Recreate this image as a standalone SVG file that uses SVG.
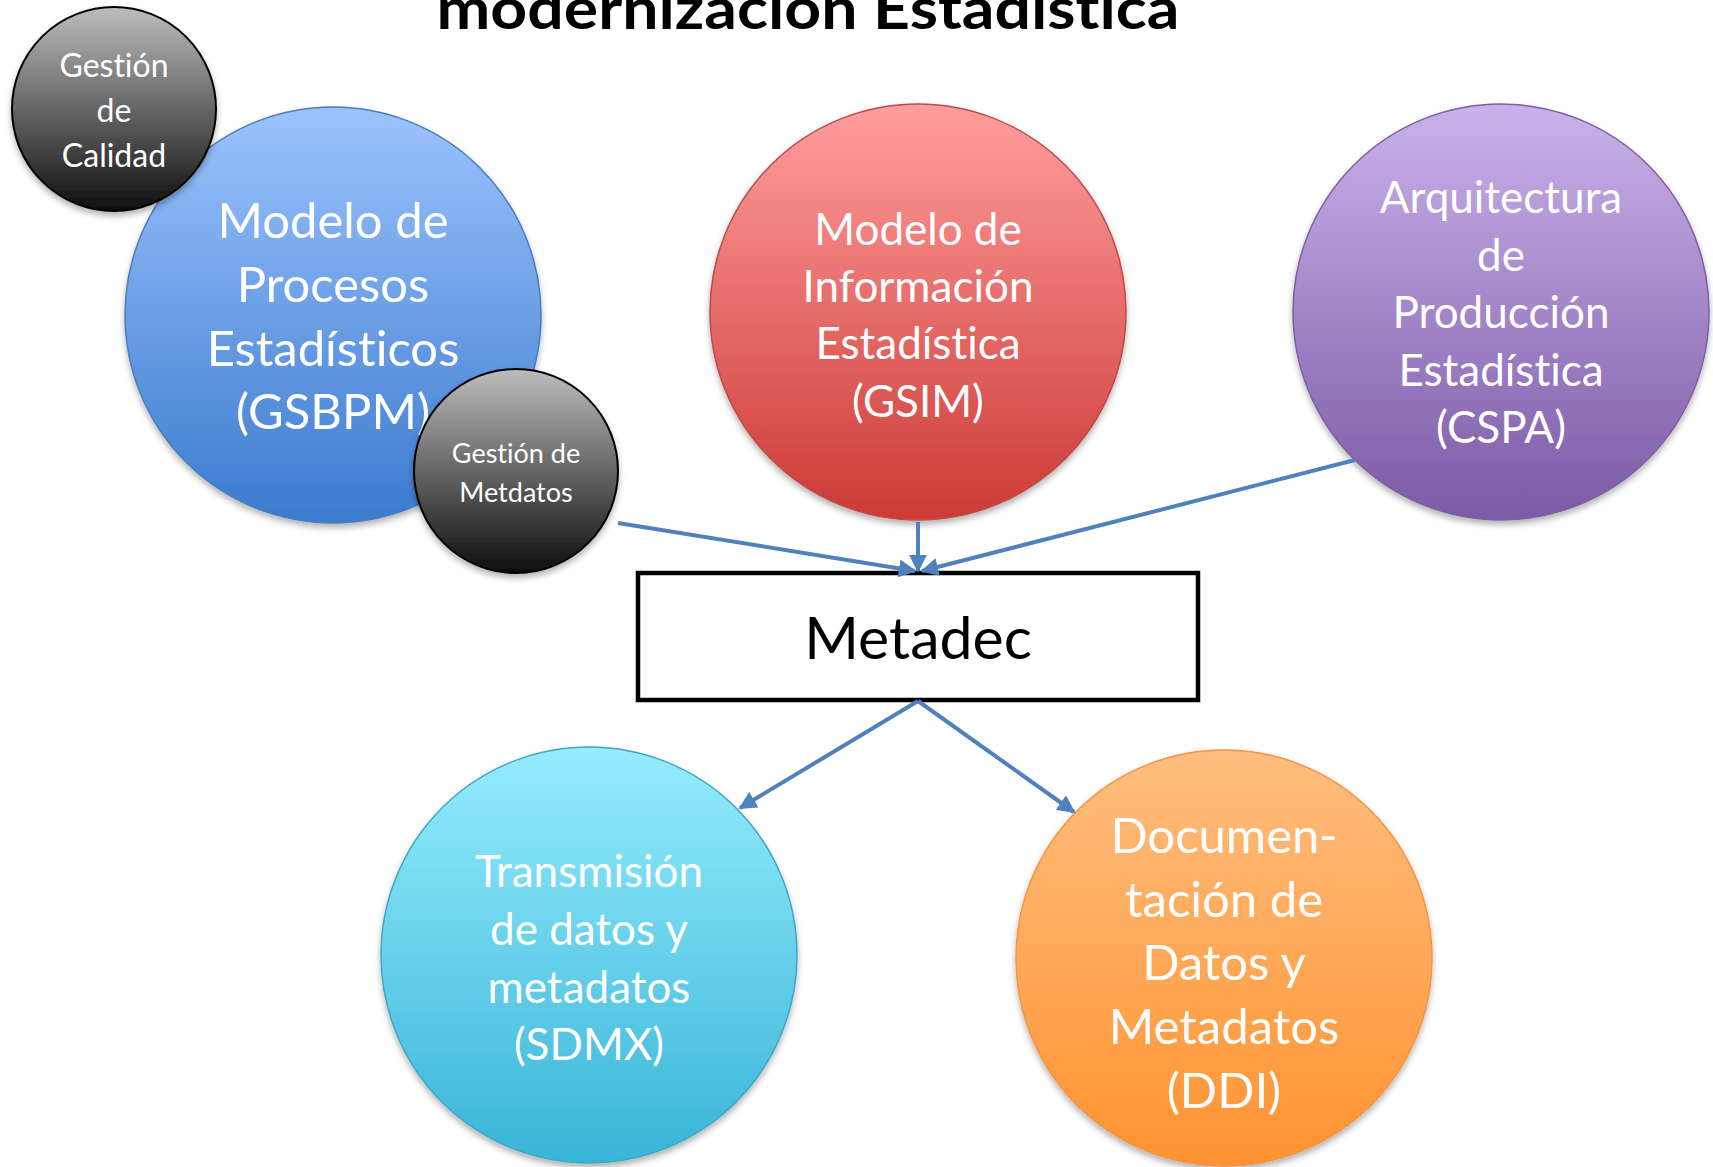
<svg xmlns="http://www.w3.org/2000/svg" width="1713" height="1167" viewBox="0 0 1713 1167">
<defs>
<linearGradient id="gBlue" x1="0" y1="0" x2="0" y2="1"><stop offset="0" stop-color="#9CC3FD"/><stop offset="1" stop-color="#3B7BCE"/></linearGradient>
<linearGradient id="gRed" x1="0" y1="0" x2="0" y2="1"><stop offset="0" stop-color="#FF9E9D"/><stop offset="1" stop-color="#CC3A36"/></linearGradient>
<linearGradient id="gPurple" x1="0" y1="0" x2="0" y2="1"><stop offset="0" stop-color="#C9B2EB"/><stop offset="1" stop-color="#7C5AA5"/></linearGradient>
<linearGradient id="gCyan" x1="0" y1="0" x2="0" y2="1"><stop offset="0" stop-color="#95EDFE"/><stop offset="1" stop-color="#39B4D7"/></linearGradient>
<linearGradient id="gOrange" x1="0" y1="0" x2="0" y2="1"><stop offset="0" stop-color="#FFBE80"/><stop offset="1" stop-color="#FF932F"/></linearGradient>
<linearGradient id="gGray" x1="0" y1="0" x2="0" y2="1"><stop offset="0" stop-color="#BDBDBD"/><stop offset="1" stop-color="#0E0E0E"/></linearGradient>
<filter id="sh" x="-20%" y="-20%" width="140%" height="140%"><feDropShadow dx="0" dy="4" stdDeviation="3" flood-color="#000" flood-opacity="0.3"/></filter>
<marker id="ah" viewBox="0 0 10 10" refX="9" refY="5" markerWidth="4.5" markerHeight="4.5" orient="auto" markerUnits="strokeWidth"><path d="M0,0 L10,5 L0,10 z" fill="#4F81BD"/></marker>
<style>
text{font-variant-ligatures:none}
.t{font-family:Lato,"Open Sans","Liberation Sans",sans-serif;fill:#fff;text-anchor:middle}
.big{font-size:49px}
.mid{font-size:44px}
.conn{stroke:#4F81BD;stroke-width:4;fill:none;marker-end:url(#ah)}
</style>
</defs>
<rect width="1713" height="1167" fill="#fff"/>
<text x="808" y="29" font-family="Lato,'Liberation Sans',sans-serif" font-weight="bold" font-size="58" text-anchor="middle" textLength="743" lengthAdjust="spacingAndGlyphs">modernización Estadística</text>

<g id="node-gsbpm">
<circle cx="333" cy="315" r="208" fill="url(#gBlue)" stroke="#4A7EBB" stroke-width="1.5" filter="url(#sh)"/>
<text class="t big" x="333" y="238">Modelo de</text>
<text class="t big" x="333" y="302">Procesos</text>
<text class="t big" x="333" y="366">Estadísticos</text>
<text class="t big" x="333" y="429">(GSBPM)</text>
</g>
<g id="node-calidad">
<circle cx="114" cy="109" r="102" fill="url(#gGray)" stroke="#000" stroke-width="2" filter="url(#sh)"/>
<text class="t" font-size="32" x="114" y="77">Gestión</text>
<text class="t" font-size="32" x="114" y="122">de</text>
<text class="t" font-size="32" x="114" y="167">Calidad</text>
</g>
<g id="node-metdatos">
<circle cx="516" cy="471" r="102" fill="url(#gGray)" stroke="#000" stroke-width="2" filter="url(#sh)"/>
<text class="t" font-size="27" x="516" y="463">Gestión de</text>
<text class="t" font-size="27" x="516" y="502">Metdatos</text>
</g>
<g id="node-gsim">
<circle cx="918" cy="312" r="208" fill="url(#gRed)" stroke="#BE4B48" stroke-width="1.5" filter="url(#sh)"/>
<text class="t mid" x="918" y="245">Modelo de</text>
<text class="t mid" x="918" y="302">Información</text>
<text class="t mid" x="918" y="359">Estadística</text>
<text class="t mid" x="918" y="417">(GSIM)</text>
</g>
<g id="node-cspa">
<circle cx="1501" cy="312" r="208" fill="url(#gPurple)" stroke="#7E5FA0" stroke-width="1.5" filter="url(#sh)"/>
<text class="t mid" x="1501" y="213">Arquitectura</text>
<text class="t mid" x="1501" y="271">de</text>
<text class="t mid" x="1501" y="328">Producción</text>
<text class="t mid" x="1501" y="386">Estadística</text>
<text class="t mid" x="1501" y="443">(CSPA)</text>
</g>
<g id="node-metadec">
<rect x="638" y="573" width="560" height="127" fill="#fff" stroke="#000" stroke-width="4.5"/>
<text x="918" y="659" font-family="Lato,'Open Sans','Liberation Sans',sans-serif" font-size="59" text-anchor="middle" fill="#000">Metadec</text>
</g>
<g id="node-sdmx">
<circle cx="589" cy="955" r="208" fill="url(#gCyan)" stroke="#40A7C2" stroke-width="1.5" filter="url(#sh)"/>
<text class="t mid" x="589" y="887">Transmisión</text>
<text class="t mid" x="589" y="945">de datos y</text>
<text class="t mid" x="589" y="1003">metadatos</text>
<text class="t mid" x="589" y="1060">(SDMX)</text>
</g>
<g id="node-ddi">
<circle cx="1224" cy="958" r="208" fill="url(#gOrange)" stroke="#F69240" stroke-width="1.5" filter="url(#sh)"/>
<text class="t big" x="1224" y="853">Documen-</text>
<text class="t big" x="1224" y="917">tación de</text>
<text class="t big" x="1224" y="980">Datos y</text>
<text class="t big" x="1224" y="1044">Metadatos</text>
<text class="t big" x="1224" y="1108">(DDI)</text>
</g>
<g id="connectors">
<line class="conn" x1="618" y1="523" x2="915" y2="571"/>
<line class="conn" x1="918" y1="522" x2="918" y2="571"/>
<line class="conn" x1="1355" y1="460" x2="922" y2="571"/>
<line class="conn" x1="918" y1="701" x2="740" y2="808"/>
<line class="conn" x1="918" y1="701" x2="1074" y2="812"/>
</g>
</svg>
